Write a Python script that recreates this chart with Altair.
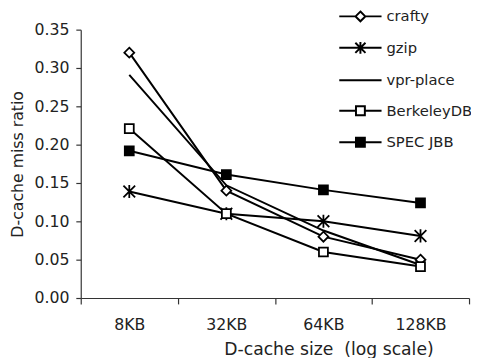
import altair as alt
import pandas as pd

sizes = ["8KB", "32KB", "64KB", "128KB"]
series = ["crafty", "gzip", "vpr-place", "BerkeleyDB", "SPEC JBB"]
crafty = [0.320, 0.140, 0.080, 0.050]
gzip = [0.139, 0.110, 0.100, 0.081]
vpr_place = [0.291, 0.147, 0.088, 0.043]
berkeleydb = [0.221, 0.110, 0.060, 0.041]
spec_jbb = [0.192, 0.161, 0.141, 0.124]
y_ticks = [0.0, 0.05, 0.10, 0.15, 0.20, 0.25, 0.30, 0.35]

values = {"crafty": crafty, "gzip": gzip, "vpr-place": vpr_place,
          "BerkeleyDB": berkeleydb, "SPEC JBB": spec_jbb}
rows = []
for s in series:
    for i, (c, v) in enumerate(zip(sizes, values[s])):
        rows.append({"size": c, "idx": i, "series": s, "ratio": v})
df = pd.DataFrame(rows)

FONT = "DejaVu Sans"
TXT = "#222222"

# marker paths in plot (unit square scaled by size)
plot_shapes = [
    "M0,-0.72L0.72,0L0,0.72L-0.72,0Z",
    "M-0.85,-0.85L0.85,0.85M-0.85,0.85L0.85,-0.85M0,-0.95L0,0.95",
    "M0,0",
    "M-0.65,-0.65L0.65,-0.65L0.65,0.65L-0.65,0.65Z",
    "M-0.65,-0.65L0.65,-0.65L0.65,0.65L-0.65,0.65Z",
]
# legend symbols: a line segment with the marker in the middle
legend_shapes = [
    "M-1,0L-0.23,0M0.23,0L1,0M0,-0.23L0.23,0L0,0.23L-0.23,0Z",
    "M-1,0L1,0M-0.24,-0.24L0.24,0.24M-0.24,0.24L0.24,-0.24M0,-0.28L0,0.28",
    "M-1,0L1,0",
    "M-1,0L-0.21,0M0.21,0L1,0M-0.21,-0.21L0.21,-0.21L0.21,0.21L-0.21,0.21Z",
    "M-1,0L-0.21,0M0.21,0L1,0M-0.21,-0.21L0.21,-0.21L0.21,0.21L-0.21,0.21Z",
]
fills = ["white", "black", "white", "white", "black"]

x_axis = alt.Axis(title="D-cache size\u00a0 (log scale)", tickBand="extent",
                  labelAngle=0, labelFont=FONT, labelFontSize=16, labelColor=TXT,
                  labelPadding=13, tickSize=6, tickColor="#333", domainColor="#333",
                  titleFont=FONT, titleFontSize=17.5, titleFontWeight="normal",
                  titleColor=TXT, titleX=252, titlePadding=8, grid=False)
y_axis = alt.Axis(title="D-cache miss ratio", values=y_ticks,
                  format=".2f", labelFont=FONT, labelFontSize=16, labelColor=TXT,
                  labelOverlap=False, labelFlush=False,
                  labelPadding=7, tickSize=5, tickColor="#333", domainColor="#333",
                  titleFont=FONT, titleFontSize=16, titleFontWeight="normal",
                  titleColor=TXT, titlePadding=9, grid=False)
x_scale = alt.Scale(type="band", domain=sizes, paddingInner=0, paddingOuter=0)
y_scale = alt.Scale(domain=[0, 0.35], nice=False, zero=True)

lines = alt.Chart(df).mark_line(color="black", strokeWidth=2).encode(
    x=alt.X("size:N", sort=sizes, scale=x_scale, axis=x_axis),
    y=alt.Y("ratio:Q", scale=y_scale, axis=y_axis),
    detail="series:N", order=alt.Order("idx:Q"))

points = alt.Chart(df).transform_filter(alt.datum.series != "vpr-place").mark_point(
    stroke="black", strokeWidth=1.8, opacity=1, size=196).encode(
    x=alt.X("size:N", sort=sizes, scale=x_scale, axis=x_axis),
    y=alt.Y("ratio:Q", scale=y_scale, axis=y_axis),
    shape=alt.Shape("series:N", scale=alt.Scale(domain=series, range=plot_shapes), legend=None),
    fill=alt.Fill("series:N", scale=alt.Scale(domain=series, range=fills), legend=None),
)

def leg():
    return alt.Legend(title=None, orient="none", legendX=262, legendY=-36,
                      symbolSize=1849, symbolStrokeWidth=2,
                      symbolStrokeColor="black",
                      labelFont=FONT, labelFontSize=15, labelColor=TXT,
                      labelOffset=4, rowPadding=-2, padding=0)

legend_layer = alt.Chart(df).transform_filter("false").mark_point(
    strokeWidth=2, opacity=1).encode(
    shape=alt.Shape("series:N", scale=alt.Scale(domain=series, range=legend_shapes), legend=leg()),
    fill=alt.Fill("series:N", scale=alt.Scale(domain=series, range=fills), legend=leg()),
    stroke=alt.Stroke("series:N", scale=alt.Scale(domain=series, range=["black"] * 5), legend=leg()),
)

chart = alt.layer(lines, points, legend_layer).resolve_scale(
    shape="independent", fill="independent", stroke="independent"
).properties(
    width=395, height=273,
    autosize=alt.AutoSizeParams(type="none"),
    padding={"left": 74, "top": 19, "right": 2, "bottom": 58},
).configure_view(stroke=None).configure_axis(domainWidth=1.2, tickWidth=1.2)

chart.save("out.html", embed_options={"renderer": "svg", "actions": False})
